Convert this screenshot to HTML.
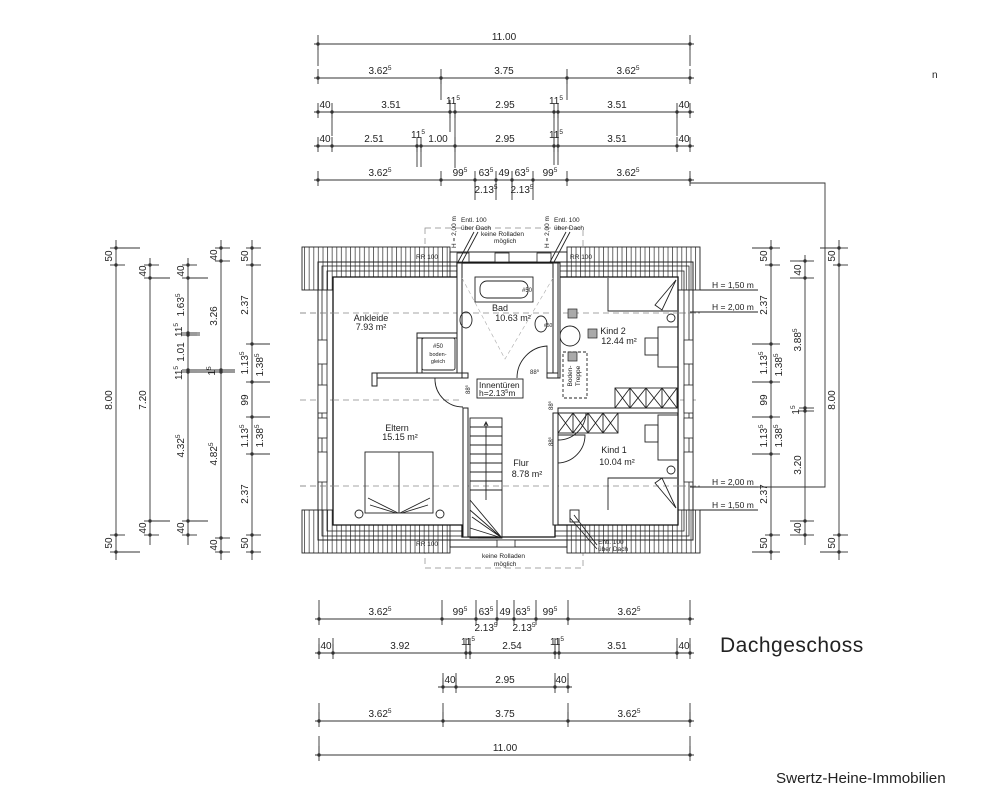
<!DOCTYPE html>
<html><head><meta charset="utf-8"><style>
html,body{margin:0;padding:0;background:#fff;}
svg{display:block;}
.d line,.d polyline{stroke:#333;stroke-width:0.9;fill:none}
text{font-family:"Liberation Sans Narrow","Liberation Sans",sans-serif;fill:#222;}
.t{font-size:10px;text-anchor:middle}
.s{font-size:6.5px}
.w{fill:#fff;stroke:#222;stroke-width:1}
.ln{stroke:#222;stroke-width:0.9;fill:none}
.dash{stroke:#888;stroke-width:0.7;stroke-dasharray:6 4;fill:none}
.rl{font-size:9px;font-family:"Liberation Mono",monospace;text-anchor:middle}
</style></head><body>
<svg width="1000" height="810" viewBox="0 0 1000 810" xmlns="http://www.w3.org/2000/svg">
<defs>
<g id="th"><line x1="0" y1="-9" x2="0" y2="6" stroke="#333" stroke-width="0.9"/><circle r="1.7" fill="#333"/></g>
<g id="tv"><line x1="-6" y1="0" x2="9" y2="0" stroke="#333" stroke-width="0.9"/><circle r="1.7" fill="#333"/></g>
<pattern id="hp" width="4.6" height="10" patternUnits="userSpaceOnUse"><rect width="4.6" height="10" fill="#fff"/><line x1="1" y1="0" x2="1" y2="10" stroke="#444" stroke-width="0.8"/></pattern>
</defs>

<!-- ===== TOP DIMENSIONS ===== -->
<g class="d">
<line x1="314" y1="44" x2="694" y2="44"/>
<line x1="314" y1="78" x2="694" y2="78"/>
<line x1="314" y1="112" x2="694" y2="112"/>
<line x1="314" y1="146" x2="694" y2="146"/>
<line x1="314" y1="180" x2="694" y2="180"/>
<line x1="441" y1="78" x2="441" y2="100"/><line x1="567" y1="78" x2="567" y2="100"/>
<line x1="318" y1="44" x2="318" y2="66"/><line x1="690" y1="44" x2="690" y2="66"/>
<line x1="332" y1="112" x2="332" y2="136"/><line x1="677" y1="112" x2="677" y2="136"/>
<line x1="450" y1="100" x2="450" y2="132"/><line x1="455" y1="112" x2="455" y2="168"/>
<line x1="554" y1="112" x2="554" y2="165"/><line x1="558" y1="112" x2="558" y2="165"/>
<line x1="417" y1="146" x2="417" y2="167"/><line x1="421" y1="146" x2="421" y2="167"/>
<line x1="475" y1="180" x2="475" y2="200"/><line x1="496" y1="180" x2="496" y2="200"/>
<line x1="512" y1="180" x2="512" y2="200"/><line x1="533" y1="180" x2="533" y2="200"/>
</g>
<g>
<use href="#th" x="318" y="44"/><use href="#th" x="690" y="44"/>
<use href="#th" x="318" y="78"/><use href="#th" x="441" y="78"/><use href="#th" x="567" y="78"/><use href="#th" x="690" y="78"/>
<use href="#th" x="318" y="112"/><use href="#th" x="332" y="112"/><use href="#th" x="450" y="112"/><use href="#th" x="455" y="112"/><use href="#th" x="554" y="112"/><use href="#th" x="558" y="112"/><use href="#th" x="677" y="112"/><use href="#th" x="690" y="112"/>
<use href="#th" x="318" y="146"/><use href="#th" x="332" y="146"/><use href="#th" x="417" y="146"/><use href="#th" x="421" y="146"/><use href="#th" x="455" y="146"/><use href="#th" x="554" y="146"/><use href="#th" x="558" y="146"/><use href="#th" x="677" y="146"/><use href="#th" x="690" y="146"/>
<use href="#th" x="318" y="180"/><use href="#th" x="441" y="180"/><use href="#th" x="475" y="180"/><use href="#th" x="496" y="180"/><use href="#th" x="512" y="180"/><use href="#th" x="533" y="180"/><use href="#th" x="567" y="180"/><use href="#th" x="690" y="180"/>
</g>
<g class="t">
<text x="504" y="40">11.00</text>
<text x="380" y="74">3.62<tspan class="s" dy="-4">5</tspan></text><text x="504" y="74">3.75</text><text x="628" y="74">3.62<tspan class="s" dy="-4">5</tspan></text>
<text x="325" y="108">40</text><text x="391" y="108">3.51</text><text x="453" y="104">11<tspan class="s" dy="-4">5</tspan></text><text x="505" y="108">2.95</text><text x="556" y="104">11<tspan class="s" dy="-4">5</tspan></text><text x="617" y="108">3.51</text><text x="684" y="108">40</text>
<text x="325" y="142">40</text><text x="374" y="142">2.51</text><text x="418" y="138">11<tspan class="s" dy="-4">5</tspan></text><text x="438" y="142">1.00</text><text x="505" y="142">2.95</text><text x="556" y="138">11<tspan class="s" dy="-4">5</tspan></text><text x="617" y="142">3.51</text><text x="684" y="142">40</text>
<text x="380" y="176">3.62<tspan class="s" dy="-4">5</tspan></text><text x="460" y="176">99<tspan class="s" dy="-4">5</tspan></text><text x="486" y="176">63<tspan class="s" dy="-4">5</tspan></text><text x="504" y="176">49</text><text x="522" y="176">63<tspan class="s" dy="-4">5</tspan></text><text x="550" y="176">99<tspan class="s" dy="-4">5</tspan></text><text x="628" y="176">3.62<tspan class="s" dy="-4">5</tspan></text>
<text x="486" y="193">2.13<tspan class="s" dy="-4">5</tspan></text><text x="522" y="193">2.13<tspan class="s" dy="-4">5</tspan></text>
</g>

<!-- ===== BOTTOM DIMENSIONS ===== -->
<g class="d">
<line x1="315" y1="619" x2="694" y2="619"/>
<line x1="315" y1="653" x2="694" y2="653"/>
<line x1="438" y1="687" x2="572" y2="687"/>
<line x1="315" y1="721" x2="694" y2="721"/>
<line x1="315" y1="755" x2="694" y2="755"/>
<line x1="319" y1="600" x2="319" y2="619"/><line x1="442" y1="600" x2="442" y2="619"/><line x1="476" y1="600" x2="476" y2="619"/><line x1="497" y1="600" x2="497" y2="619"/><line x1="514" y1="600" x2="514" y2="619"/><line x1="536" y1="600" x2="536" y2="619"/><line x1="568" y1="600" x2="568" y2="619"/><line x1="690" y1="600" x2="690" y2="619"/>
<line x1="319" y1="638" x2="319" y2="653"/><line x1="333" y1="638" x2="333" y2="653"/><line x1="466" y1="638" x2="466" y2="653"/><line x1="470" y1="638" x2="470" y2="653"/><line x1="555" y1="638" x2="555" y2="653"/><line x1="559" y1="638" x2="559" y2="653"/><line x1="677" y1="638" x2="677" y2="653"/><line x1="690" y1="638" x2="690" y2="653"/>
<line x1="443" y1="673" x2="443" y2="687"/><line x1="456" y1="673" x2="456" y2="687"/><line x1="555" y1="673" x2="555" y2="687"/><line x1="568" y1="673" x2="568" y2="687"/>
<line x1="319" y1="703" x2="319" y2="721"/><line x1="443" y1="703" x2="443" y2="721"/><line x1="568" y1="703" x2="568" y2="721"/><line x1="690" y1="703" x2="690" y2="721"/>
<line x1="319" y1="736" x2="319" y2="755"/><line x1="690" y1="736" x2="690" y2="755"/>
</g>
<g>
<use href="#th" x="319" y="619"/><use href="#th" x="442" y="619"/><use href="#th" x="476" y="619"/><use href="#th" x="497" y="619"/><use href="#th" x="514" y="619"/><use href="#th" x="536" y="619"/><use href="#th" x="568" y="619"/><use href="#th" x="690" y="619"/>
<use href="#th" x="319" y="653"/><use href="#th" x="333" y="653"/><use href="#th" x="466" y="653"/><use href="#th" x="470" y="653"/><use href="#th" x="555" y="653"/><use href="#th" x="559" y="653"/><use href="#th" x="677" y="653"/><use href="#th" x="690" y="653"/>
<use href="#th" x="443" y="687"/><use href="#th" x="456" y="687"/><use href="#th" x="555" y="687"/><use href="#th" x="568" y="687"/>
<use href="#th" x="319" y="721"/><use href="#th" x="443" y="721"/><use href="#th" x="568" y="721"/><use href="#th" x="690" y="721"/>
<use href="#th" x="319" y="755"/><use href="#th" x="690" y="755"/>
</g>
<g class="t">
<text x="380" y="615">3.62<tspan class="s" dy="-4">5</tspan></text><text x="460" y="615">99<tspan class="s" dy="-4">5</tspan></text><text x="486" y="615">63<tspan class="s" dy="-4">5</tspan></text><text x="505" y="615">49</text><text x="523" y="615">63<tspan class="s" dy="-4">5</tspan></text><text x="550" y="615">99<tspan class="s" dy="-4">5</tspan></text><text x="629" y="615">3.62<tspan class="s" dy="-4">5</tspan></text>
<text x="486" y="631">2.13<tspan class="s" dy="-4">5</tspan></text><text x="524" y="631">2.13<tspan class="s" dy="-4">5</tspan></text>
<text x="326" y="649">40</text><text x="400" y="649">3.92</text><text x="468" y="645">11<tspan class="s" dy="-4">5</tspan></text><text x="512" y="649">2.54</text><text x="557" y="645">11<tspan class="s" dy="-4">5</tspan></text><text x="617" y="649">3.51</text><text x="684" y="649">40</text>
<text x="450" y="683">40</text><text x="505" y="683">2.95</text><text x="561" y="683">40</text>
<text x="380" y="717">3.62<tspan class="s" dy="-4">5</tspan></text><text x="505" y="717">3.75</text><text x="629" y="717">3.62<tspan class="s" dy="-4">5</tspan></text>
<text x="505" y="751">11.00</text>
</g>

<!-- ===== LEFT DIMENSIONS ===== -->
<g class="d">
<line x1="116" y1="240" x2="116" y2="560"/>
<line x1="150" y1="258" x2="150" y2="545"/>
<line x1="188" y1="258" x2="188" y2="545"/>
<line x1="221" y1="240" x2="221" y2="560"/>
<line x1="252" y1="240" x2="252" y2="560"/>
<line x1="116" y1="248" x2="140" y2="248"/><line x1="116" y1="552" x2="140" y2="552"/>
<line x1="150" y1="278" x2="170" y2="278"/><line x1="150" y1="521" x2="170" y2="521"/>
<line x1="188" y1="278" x2="208" y2="278"/><line x1="188" y1="521" x2="208" y2="521"/>
<line x1="188" y1="333" x2="200" y2="333"/><line x1="188" y1="335" x2="200" y2="335"/>
<line x1="188" y1="370" x2="235" y2="370"/><line x1="188" y1="372" x2="235" y2="372"/>
<line x1="252" y1="344" x2="270" y2="344"/><line x1="252" y1="382" x2="270" y2="382"/><line x1="252" y1="417" x2="270" y2="417"/><line x1="252" y1="454" x2="270" y2="454"/>
</g>
<g>
<use href="#tv" x="116" y="248"/><use href="#tv" x="116" y="265"/><use href="#tv" x="116" y="535"/><use href="#tv" x="116" y="552"/>
<use href="#tv" x="150" y="265"/><use href="#tv" x="150" y="278"/><use href="#tv" x="150" y="521"/><use href="#tv" x="150" y="535"/>
<use href="#tv" x="188" y="265"/><use href="#tv" x="188" y="278"/><use href="#tv" x="188" y="333"/><use href="#tv" x="188" y="335"/><use href="#tv" x="188" y="370"/><use href="#tv" x="188" y="372"/><use href="#tv" x="188" y="521"/><use href="#tv" x="188" y="535"/>
<use href="#tv" x="221" y="248"/><use href="#tv" x="221" y="261"/><use href="#tv" x="221" y="370"/><use href="#tv" x="221" y="372"/><use href="#tv" x="221" y="538"/><use href="#tv" x="221" y="552"/>
<use href="#tv" x="252" y="248"/><use href="#tv" x="252" y="265"/><use href="#tv" x="252" y="344"/><use href="#tv" x="252" y="382"/><use href="#tv" x="252" y="417"/><use href="#tv" x="252" y="454"/><use href="#tv" x="252" y="535"/><use href="#tv" x="252" y="552"/>
</g>
<g class="t">
<text transform="translate(112,256) rotate(-90)">50</text>
<text transform="translate(112,400) rotate(-90)">8.00</text>
<text transform="translate(112,543) rotate(-90)">50</text>
<text transform="translate(146,271) rotate(-90)">40</text>
<text transform="translate(146,400) rotate(-90)">7.20</text>
<text transform="translate(146,528) rotate(-90)">40</text>
<text transform="translate(184,271) rotate(-90)">40</text>
<text transform="translate(184,305) rotate(-90)">1.63<tspan class="s" dy="-4">5</tspan></text>
<text transform="translate(182,330) rotate(-90)">11<tspan class="s" dy="-4">5</tspan></text>
<text transform="translate(184,352) rotate(-90)">1.01</text>
<text transform="translate(182,373) rotate(-90)">11<tspan class="s" dy="-4">5</tspan></text>
<text transform="translate(184,446) rotate(-90)">4.32<tspan class="s" dy="-4">5</tspan></text>
<text transform="translate(184,528) rotate(-90)">40</text>
<text transform="translate(217,255) rotate(-90)">40</text>
<text transform="translate(217,316) rotate(-90)">3.26</text>
<text transform="translate(215,371) rotate(-90)">1<tspan class="s" dy="-4">5</tspan></text>
<text transform="translate(217,454) rotate(-90)">4.82<tspan class="s" dy="-4">5</tspan></text>
<text transform="translate(217,545) rotate(-90)">40</text>
<text transform="translate(248,256) rotate(-90)">50</text>
<text transform="translate(248,305) rotate(-90)">2.37</text>
<text transform="translate(248,363) rotate(-90)">1.13<tspan class="s" dy="-4">5</tspan></text>
<text transform="translate(263,365) rotate(-90)">1.38<tspan class="s" dy="-4">5</tspan></text>
<text transform="translate(248,400) rotate(-90)">99</text>
<text transform="translate(248,436) rotate(-90)">1.13<tspan class="s" dy="-4">5</tspan></text>
<text transform="translate(263,436) rotate(-90)">1.38<tspan class="s" dy="-4">5</tspan></text>
<text transform="translate(248,494) rotate(-90)">2.37</text>
<text transform="translate(248,543) rotate(-90)">50</text>
</g>

<!-- ===== RIGHT DIMENSIONS ===== -->
<g class="d">
<line x1="771" y1="240" x2="771" y2="560"/>
<line x1="805" y1="255" x2="805" y2="545"/>
<line x1="839" y1="240" x2="839" y2="560"/>
<line x1="752" y1="248" x2="771" y2="248"/><line x1="752" y1="552" x2="771" y2="552"/>
<line x1="752" y1="344" x2="771" y2="344"/><line x1="752" y1="382" x2="771" y2="382"/><line x1="752" y1="417" x2="771" y2="417"/><line x1="752" y1="454" x2="771" y2="454"/>
<line x1="790" y1="261" x2="805" y2="261"/><line x1="790" y1="278" x2="805" y2="278"/><line x1="790" y1="521" x2="805" y2="521"/><line x1="790" y1="535" x2="805" y2="535"/>
<line x1="820" y1="248" x2="839" y2="248"/><line x1="820" y1="552" x2="839" y2="552"/>
<polyline points="690,176 690,183 825,183 825,487 690,487"/>
</g>
<g>
<use href="#tv" x="771" y="248"/><use href="#tv" x="771" y="265"/><use href="#tv" x="771" y="344"/><use href="#tv" x="771" y="382"/><use href="#tv" x="771" y="417"/><use href="#tv" x="771" y="454"/><use href="#tv" x="771" y="535"/><use href="#tv" x="771" y="552"/>
<use href="#tv" x="805" y="261"/><use href="#tv" x="805" y="278"/><use href="#tv" x="805" y="408"/><use href="#tv" x="805" y="411"/><use href="#tv" x="805" y="521"/><use href="#tv" x="805" y="535"/>
<use href="#tv" x="839" y="248"/><use href="#tv" x="839" y="265"/><use href="#tv" x="839" y="535"/><use href="#tv" x="839" y="552"/>
</g>
<g class="t">
<text transform="translate(767,256) rotate(-90)">50</text>
<text transform="translate(767,305) rotate(-90)">2.37</text>
<text transform="translate(767,363) rotate(-90)">1.13<tspan class="s" dy="-4">5</tspan></text>
<text transform="translate(782,365) rotate(-90)">1.38<tspan class="s" dy="-4">5</tspan></text>
<text transform="translate(767,400) rotate(-90)">99</text>
<text transform="translate(767,436) rotate(-90)">1.13<tspan class="s" dy="-4">5</tspan></text>
<text transform="translate(782,436) rotate(-90)">1.38<tspan class="s" dy="-4">5</tspan></text>
<text transform="translate(767,494) rotate(-90)">2.37</text>
<text transform="translate(767,543) rotate(-90)">50</text>
<text transform="translate(801,270) rotate(-90)">40</text>
<text transform="translate(801,340) rotate(-90)">3.88<tspan class="s" dy="-4">5</tspan></text>
<text transform="translate(799,410) rotate(-90)">1<tspan class="s" dy="-4">5</tspan></text>
<text transform="translate(801,465) rotate(-90)">3.20</text>
<text transform="translate(801,528) rotate(-90)">40</text>
<text transform="translate(835,256) rotate(-90)">50</text>
<text transform="translate(835,400) rotate(-90)">8.00</text>
<text transform="translate(835,543) rotate(-90)">50</text>
</g>
<g font-size="8.5" font-family="Liberation Mono,monospace">
<text x="712" y="288">H = 1,50 m</text><line x1="700" y1="290" x2="758" y2="290" class="ln" stroke-width="0.6"/>
<text x="712" y="310">H = 2,00 m</text><line x1="690" y1="312" x2="758" y2="312" class="ln" stroke-width="0.6"/>
<text x="712" y="485">H = 2,00 m</text><line x1="690" y1="487" x2="758" y2="487" class="ln" stroke-width="0.6"/>
<text x="712" y="508">H = 1,50 m</text><line x1="700" y1="510" x2="758" y2="510" class="ln" stroke-width="0.6"/>
</g>

<!-- ===== BUILDING ===== -->
<!-- dashed guide lines -->
<rect x="425" y="228" width="158" height="340" class="dash"/>
<line x1="300" y1="313" x2="700" y2="313" class="dash"/>
<line x1="300" y1="400" x2="700" y2="400" class="dash"/>
<line x1="300" y1="486" x2="700" y2="486" class="dash"/>
<!-- roof hatching -->
<rect x="302" y="247" width="148" height="43" fill="url(#hp)" stroke="#222" stroke-width="0.9"/>
<rect x="567" y="247" width="133" height="43" fill="url(#hp)" stroke="#222" stroke-width="0.9"/>
<rect x="302" y="510" width="148" height="43" fill="url(#hp)" stroke="#222" stroke-width="0.9"/>
<rect x="567" y="510" width="133" height="43" fill="url(#hp)" stroke="#222" stroke-width="0.9"/>
<!-- side wall layers -->
<rect x="318" y="262" width="375" height="278" fill="none" stroke="#222" stroke-width="1"/>
<rect x="322" y="266" width="367" height="270" fill="none" stroke="#222" stroke-width="0.8"/>
<rect x="327" y="271" width="357" height="260" fill="none" stroke="#222" stroke-width="0.8"/>
<!-- center gable section -->
<polygon points="450,252 567,252 567,262 450,262" fill="#fff" stroke="#222" stroke-width="1"/>
<polygon points="450,540 567,540 567,547 450,547" fill="#fff" stroke="#222" stroke-width="1"/>
<!-- interior -->
<polygon points="333,277 457,277 457,263 555,263 555,277 678,277 678,525 555,525 555,537 462,537 462,525 333,525" fill="#fff" stroke="#111" stroke-width="1.3"/>
<line x1="300" y1="313" x2="333" y2="313" class="dash"/><line x1="678" y1="313" x2="700" y2="313" class="dash"/>
<line x1="300" y1="486" x2="333" y2="486" class="dash"/><line x1="678" y1="486" x2="700" y2="486" class="dash"/>
<line x1="333" y1="313" x2="678" y2="313" class="dash"/>
<line x1="333" y1="486" x2="678" y2="486" class="dash"/>
<line x1="333" y1="400" x2="463" y2="400" class="dash"/>
<!-- windows on side walls -->
<g fill="#fff" stroke="#222" stroke-width="0.8">
<rect x="318" y="340" width="9" height="24"/><rect x="318" y="385" width="9" height="28"/><rect x="318" y="418" width="9" height="20"/><rect x="318" y="452" width="9" height="30"/>
<rect x="684" y="340" width="9" height="24"/><rect x="684" y="385" width="9" height="28"/><rect x="684" y="418" width="9" height="20"/><rect x="684" y="452" width="9" height="30"/>
<rect x="495" y="253" width="14" height="9"/><rect x="537" y="253" width="14" height="9"/><rect x="457" y="253" width="12" height="9"/>
<rect x="497" y="540" width="18" height="7"/>
</g>
<!-- interior walls -->
<g class="w">
<rect x="457" y="263" width="5" height="115"/>
<rect x="553" y="263" width="5" height="115"/>
<rect x="372" y="373" width="90" height="5"/>
<rect x="372" y="373" width="5" height="13"/>
<rect x="417" y="333" width="5" height="40"/>
<rect x="417" y="333" width="40" height="5"/>
<rect x="462" y="373" width="6" height="5"/>
<rect x="547" y="373" width="11" height="5"/>
<rect x="463" y="408" width="5" height="129"/>
<rect x="553" y="413" width="5" height="112"/>
<rect x="558" y="408" width="120" height="5"/>
<rect x="558" y="263" width="2" height="115"/>
</g>
<!-- doors -->
<g class="ln">
<path d="M547,378 L547,346 A32,32 0 0 0 517,378"/>
<path d="M463,378 L435,378 A28,28 0 0 0 463,407"/>
<path d="M558,413 L586,413 A28,28 0 0 1 558,440"/>
<path d="M558,435 L585,435 A28,28 0 0 1 558,463"/>
</g>
<!-- closets -->
<g class="ln">
<rect x="615" y="388" width="62" height="20"/>
<path d="M615,388 L630,408 M630,388 L615,408 M630,388 L646,408 M646,388 L630,408 M646,388 L662,408 M662,388 L646,408 M662,388 L677,408 M677,388 L662,408 M630,388 V408 M646,388 V408 M662,388 V408"/>
<rect x="558" y="413" width="60" height="20"/>
<path d="M558,413 L573,433 M573,413 L558,433 M573,413 L588,433 M588,413 L573,433 M588,413 L603,433 M603,413 L588,433 M603,413 L618,433 M618,413 L603,433 M573,413 V433 M588,413 V433 M603,413 V433"/>
</g>
<!-- Boden-Treppe -->
<rect x="563" y="352" width="24" height="46" class="ln" stroke-dasharray="3 2" stroke-width="0.7"/>
<text transform="translate(572,376) rotate(-90)" font-size="6.5" text-anchor="middle">Boden-</text>
<text transform="translate(580,376) rotate(-90)" font-size="6.5" text-anchor="middle">Treppe</text>
<circle cx="570" cy="336" r="10" class="ln"/>
<g fill="#aaa" stroke="#222" stroke-width="0.7">
<rect x="568" y="309" width="9" height="9"/><rect x="588" y="329" width="9" height="9"/><rect x="568" y="352" width="9" height="9"/>
</g>
<!-- furniture Kind 2 / Kind 1 -->
<g class="ln">
<path d="M608,278 V311 H677"/>
<path d="M676,280 L655,305 L662,310 Z"/>
<rect x="658" y="327" width="20" height="40"/><rect x="645" y="338" width="13" height="17"/>
<rect x="658" y="415" width="20" height="45"/><rect x="645" y="425" width="13" height="17"/>
<path d="M608,510 V478 H677"/>
<path d="M676,508 L655,483 L662,478 Z"/>
<circle cx="671" cy="318" r="4"/><circle cx="671" cy="470" r="4"/>
</g>
<!-- Eltern bed -->
<g class="ln">
<rect x="365" y="452" width="68" height="61"/>
<line x1="399" y1="452" x2="399" y2="513"/>
<path d="M368,498 L398,513 M430,498 L400,513 M370,505 L396,513 M428,505 L402,513"/>
<circle cx="359" cy="514" r="4"/><circle cx="440" cy="514" r="4"/>
</g>
<!-- stairs -->
<g class="ln" stroke-width="0.8">
<rect x="470" y="418" width="32" height="120"/>
<path d="M470,427H502 M470,436H502 M470,445H502 M470,454H502 M470,463H502 M470,472H502 M470,481H502 M470,490H502"/>
<path d="M502,538 L470,500 M502,538 L472,517 M502,538 L478,538 M502,538 L488,538 M502,538 L470,510 M502,538 L470,528"/>
<line x1="486" y1="422" x2="486" y2="500"/>
<path d="M484,426 L486,422 L488,426"/>
</g>
<!-- Bad fixtures -->
<g class="ln">
<rect x="475" y="277" width="58" height="25"/>
<rect x="480" y="281" width="48" height="17" rx="7"/>
<ellipse cx="466" cy="320" rx="6" ry="8"/>
<ellipse cx="541" cy="324" rx="6" ry="8"/>
<rect x="422" y="338" width="33" height="32" rx="2"/>
<path d="M462,278 L505,359 L553,278" stroke="#aaa" stroke-dasharray="4 3" stroke-width="0.6"/>
</g>
<text x="522" y="292" font-size="6">#50</text>
<text x="544" y="327" font-size="5">#50</text>
<text x="438" y="348" font-size="6" text-anchor="middle">#50</text>
<text x="438" y="356" font-size="5.5" text-anchor="middle">boden-</text>
<text x="438" y="363" font-size="5.5" text-anchor="middle">gleich</text>
<!-- Innentüren box -->
<rect x="477" y="379" width="46" height="19" fill="#fff" stroke="#222" stroke-width="0.9"/>
<g font-family="Liberation Mono,monospace" font-size="8.5">
<text x="479" y="388">Innentüren</text>
<text x="479" y="396">h=2.13<tspan font-size="5.5" dy="-3">5</tspan><tspan dy="3">m</tspan></text>
</g>
<!-- door labels -->
<g font-size="6">
<text x="530" y="374">88<tspan dy="-2" font-size="4">5</tspan></text>
<text transform="translate(470,394) rotate(-90)">88<tspan dy="-2" font-size="4">5</tspan></text>
<text transform="translate(553,410) rotate(-90)">88<tspan dy="-2" font-size="4">5</tspan></text>
<text transform="translate(553,446) rotate(-90)">88<tspan dy="-2" font-size="4">5</tspan></text>
</g>
<!-- room labels -->
<g class="rl">
<text x="371" y="321">Ankleide</text><text x="371" y="330">7.93 m²</text>
<text x="500" y="311">Bad</text><text x="513" y="321">10.63 m²</text>
<text x="613" y="334">Kind 2</text><text x="619" y="344">12.44 m²</text>
<text x="397" y="431">Eltern</text><text x="400" y="440">15.15 m²</text>
<text x="521" y="466">Flur</text><text x="527" y="477">8.78 m²</text>
<text x="614" y="453">Kind 1</text><text x="617" y="465">10.04 m²</text>
</g>
<g font-family="Liberation Mono,monospace" font-size="6.5">
<text x="416" y="259">RR 100</text><text x="570" y="259">RR 100</text><text x="416" y="546">RR 100</text>
<text x="481" y="236">keine Rolladen</text><text x="494" y="243">möglich</text>
<text x="482" y="558">keine Rolladen</text><text x="494" y="566">möglich</text>
<text x="461" y="222">Entl. 100</text><text x="461" y="230">über Dach</text>
<text x="554" y="222">Entl. 100</text><text x="554" y="230">über Dach</text>
<text x="598" y="544">Entl. 100</text><text x="598" y="551">über Dach</text>
<text transform="translate(456,248) rotate(-90)">H = 2,00 m</text>
<text transform="translate(549,248) rotate(-90)">H = 2,00 m</text>
</g>
<g class="ln" stroke-width="0.7">
<path d="M474,232 L458,262 M478,232 L462,262"/>
<path d="M566,232 L550,262 M570,232 L554,262"/>
<path d="M597,545 L574,515 M597,549 L570,518"/>
<rect x="570" y="510" width="9" height="12"/>
</g>

<!-- ===== TEXT ===== -->
<text x="720" y="652" font-family="Liberation Sans Narrow,Liberation Sans,sans-serif" font-size="21" fill="#444" style="letter-spacing:0.5px">Dachgeschoss</text>
<text x="932" y="78" font-size="10" fill="#666">n</text>
<text x="776" y="783" font-family="Liberation Sans,Arial,sans-serif" font-size="15.2" fill="#000">Swertz-Heine-Immobilien</text>
</svg>
</body></html>
